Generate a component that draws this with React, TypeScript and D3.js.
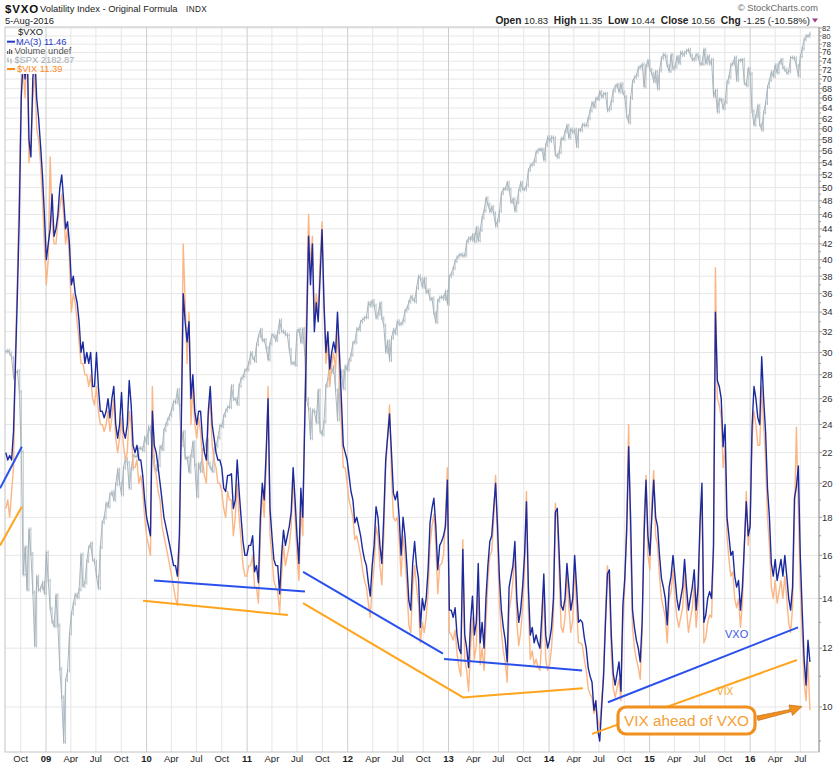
import React from "react";
import * as d3 from "d3";

// weekly samples (Fridays) starting 8-Aug-2008, ending 5-Aug-2016
const seriesStart = "2008-08-08";
const stepDays = 7;

// $VXO MA(3)
const vxoMA3 = [
  // 2008
  22, 21.5, 21.8, 21.5, 23.5, 29, 36, 46, 66, 75, 70, 80, 58, 55, 70, 76, 66, 62, 57, 52, 46,
  // 2009
  40, 42, 44, 49, 43, 44, 46, 50, 52, 48, 44, 45, 42, 37, 38, 36, 35, 33, 30, 31,
  29, 30, 29, 30, 27, 27, 30, 27, 25, 25, 24.5, 25, 26, 24.5, 26, 27, 24, 23, 24, 26.5,
  23.5, 23, 24, 27.5, 25.5, 22.5, 22, 22.5, 21.5, 21.5, 20.5, 19,
  // 2010
  18, 17.5, 17, 25, 22.5, 22, 21, 20, 19, 18, 17.5, 17, 16.5, 16, 15.5, 15.5, 15, 17, 24, 36,
  33, 31, 33, 26, 28, 25, 24, 25, 25, 23, 22, 21.5, 25, 27, 24, 23, 22, 21.5, 21.5, 21,
  19.7, 19.5, 20.5, 20.5, 20.6, 18.5, 19, 21.5, 19.5, 18, 16.7, 16,
  // 2011
  16, 16.5, 16.5, 17, 15.2, 15.5, 14.7, 18, 20, 19, 22, 26, 18.5, 17, 15.8, 15.5, 15.5, 14.2, 16, 17.3,
  16.5, 17, 17.5, 18.3, 21, 19, 17, 15.6, 19.7, 18, 24, 32, 43, 37, 42, 32, 35, 33, 38, 43.9,
  35, 30, 32, 28.5, 30, 31, 30, 34, 30, 26, 22.5, 22,
  // 2012
  21.5, 20.5, 19.5, 19, 17.7, 18, 17.5, 17, 16.3, 15.8, 15.5, 14.7, 14.1, 15.5, 16.5, 18.6, 18, 16.5, 15.6, 18,
  21.5, 23.1, 24.8, 22, 19.4, 19, 19.5, 18, 16, 18, 17, 15.5, 13.9, 13.5, 15.6, 16.7, 15.5, 14.9, 12.8, 14,
  13.5, 14, 15.3, 17.7, 18.5, 19.1, 17.5, 15.3, 16.5, 16.7, 17, 17.5,
  // 2013
  20.2, 13.5, 13.5, 13.2, 13.6, 12.5, 12, 11.8, 16.3, 12.5, 12, 11.3, 13, 14.1, 12.5, 13, 15.6, 12.2, 13, 12,
  14, 15.5, 16.7, 17, 18.5, 20, 17.5, 14.9, 13.5, 12.8, 12.3, 11.5, 14.5, 15, 15.5, 16.7, 14, 13, 13.5, 14.5,
  16, 18.9, 14.5, 12.5, 12.8, 12.2, 12.5, 12.2, 12, 13.3, 15.1, 12.5,
  // 2014
  12, 12.3, 12.8, 14, 18.3, 18.5, 16, 13.7, 13.5, 14, 15.6, 14.5, 13.5, 14, 16, 14.5, 13, 13.1, 13, 12.4,
  12, 11.3, 11, 10.8, 9.9, 10.2, 9.3, 9.0, 10, 11, 13, 15.1, 15.3, 12.5, 11.1, 10.7, 11.1, 11.5, 10.5, 13.7,
  14.9, 17.3, 22.4, 18, 13.5, 12.8, 12.3, 12, 11.5, 13, 17, 20.2,
  // 2015
  17, 16, 18, 20.2, 18, 17.5, 16, 14.9, 14.5, 14, 12.9, 14.5, 15, 16, 15, 14, 13.5, 14, 14.5, 15.8,
  14.5, 13.5, 14, 14.5, 15.3, 13.5, 14.5, 17.7, 20, 13, 13.3, 14, 14.3, 14, 16.5, 34, 27.5, 27, 26, 22.4,
  24, 18, 17, 16, 16.2, 15, 14.5, 14.8, 13.5, 14.5, 16.5, 18.9,
  // 2016
  17, 17.5, 23.8, 27, 26, 24.5, 24, 29.6, 26, 23.5, 19.7, 18, 15.6, 15, 15.8, 14.8, 15.3, 15.8, 15, 16,
  15, 14, 13.5, 14.5, 19.1, 19.8, 21.1, 16, 13.5, 11.6, 10.7, 12.3, 11.5,
];

// $VIX overlay
const vix = [
  // 2008
  18.5, 19, 18, 19.5, 21, 30, 38, 50, 68, 72, 66, 78, 54, 58, 66, 72, 60, 58, 54, 48, 42,
  // 2009
  37, 40, 55, 45, 42, 42, 45, 47, 49, 46, 42, 44, 40, 34, 36, 35, 33, 31, 29, 29,
  28, 28, 27, 28, 26, 25.5, 27, 25, 24, 24, 23.5, 24, 25, 23.5, 24.5, 26, 23, 22, 23, 24.5,
  22.5, 21.5, 22, 25, 24, 21, 21, 21.5, 20, 20.5, 19.5, 18,
  // 2010
  17, 16.5, 16, 27, 21, 20.5, 19.5, 19, 17.5, 17, 16.5, 16, 15.5, 15, 14.5, 14, 13.7, 16, 25, 42,
  35, 29, 34, 24, 27, 24, 23, 24.5, 23.5, 21.5, 20.5, 20, 24.5, 26, 22.5, 21.5, 21, 20, 20, 19.5,
  18.5, 18, 19.5, 19, 19, 17, 18, 20, 18, 16.8, 15.5, 15,
  // 2011
  15, 15.5, 15.5, 16, 14.5, 14.5, 13.8, 17, 19.5, 18, 21, 27, 17, 16, 14.8, 14.5, 14.3, 13.4, 15, 16.5,
  15.5, 16, 16.5, 17.5, 20.5, 18, 16, 14.8, 18.5, 17, 25, 35, 46, 39, 43, 33, 36, 34, 40, 45,
  34, 29, 31, 27, 29, 30, 28.5, 32, 28, 24, 21, 21,
  // 2012
  20, 19, 18.5, 18, 16.8, 17, 16.5, 16, 15.3, 14.8, 14.5, 13.8, 13.2, 14.5, 15.5, 17.5, 17, 15.5, 14.6, 17,
  21, 23, 25.5, 20.5, 18, 17.8, 18, 16.8, 15, 17, 16, 14.5, 12.9, 12.6, 14.5, 15.5, 14.5, 13.8, 12.2, 13,
  12.6, 13.2, 14.3, 16.5, 17.5, 18.2, 16.5, 14.2, 15.5, 15.6, 16, 18,
  // 2013
  21, 12.6, 12.5, 12.3, 12.7, 11.8, 11.3, 11, 16.8, 11.6, 11.2, 10.5, 12, 13.2, 11.6, 12.1, 14.8, 11.4, 12, 11.2,
  13, 14.8, 16, 16.2, 17.8, 20.5, 16.5, 13.8, 12.6, 11.9, 11.5, 10.8, 13.5, 14, 14.8, 16.2, 13, 12.1, 12.6, 13.6,
  15.2, 19.5, 13.5, 11.6, 11.9, 11.4, 11.6, 11.3, 11.2, 12.4, 14.6, 11.6,
  // 2014
  11.2, 11.4, 12, 13.2, 18.8, 17.8, 15, 12.8, 12.6, 13.2, 15.2, 13.6, 12.6, 13.1, 15.5, 13.6, 12.2, 12.2, 12.1, 11.6,
  11.2, 10.6, 10.4, 10.3, 9.8, 10, 9.6, 9.4, 10.2, 11.2, 13.5, 15.5, 14.5, 11.8, 10.6, 10.3, 10.6, 10.9, 10.2, 13,
  14.5, 18, 24, 16.5, 12.8, 12, 11.6, 11.3, 10.9, 12.5, 18, 20.5,
  // 2015
  16, 15.3, 19, 20.8, 17, 16.5, 15, 14, 13.6, 13.2, 12.2, 14, 14.3, 15.3, 14, 13.2, 12.8, 13.2, 13.6, 15.2,
  13.6, 12.6, 13.1, 13.6, 14.6, 12.8, 13.8, 17.2, 19.5, 12.2, 12.4, 13, 13.3, 13.2, 16, 39, 26, 25.5, 24.5, 21,
  22.5, 17, 15.8, 15, 15.2, 14, 13.6, 14, 12.8, 13.8, 16.5, 19.5,
  // 2016
  16.5, 18, 23, 25, 24, 22.5, 22.5, 27, 24, 21.5, 18, 16.5, 14.5, 14, 14.8, 13.8, 14.3, 14.8, 14, 15,
  14, 13, 12.6, 13.6, 18, 23.8, 18.5, 14.5, 12.5, 10.8, 10.2, 11.5, 9.9,
];

// $SPX overlay (own hidden scale)
const spx = [
  // 2008
  1296, 1298, 1292, 1283, 1242, 1252, 1255, 1213, 1099, 899, 940, 877, 968, 930, 873, 800, 896, 876, 879, 887, 872,
  // 2009
  932, 890, 850, 832, 826, 869, 827, 770, 735, 683, 756, 768, 816, 843, 857, 870, 866, 877, 929, 882,
  887, 919, 940, 946, 921, 918, 896, 879, 940, 979, 987, 1010, 1005, 1026, 1029, 1016, 1042, 1068, 1044, 1025,
  1071, 1087, 1080, 1036, 1069, 1093, 1091, 1091, 1106, 1106, 1102, 1126,
  // 2010
  1115, 1145, 1136, 1092, 1074, 1066, 1075, 1109, 1104, 1139, 1150, 1160, 1167, 1179, 1194, 1192, 1217, 1187, 1111, 1136,
  1088, 1089, 1064, 1092, 1117, 1076, 1022, 1078, 1065, 1103, 1102, 1121, 1079, 1071, 1065, 1105, 1110, 1125, 1148, 1146,
  1166, 1176, 1183, 1183, 1225, 1199, 1199, 1189, 1225, 1240, 1244, 1257,
  // 2011
  1258, 1272, 1293, 1283, 1276, 1311, 1329, 1343, 1320, 1321, 1304, 1279, 1313, 1332, 1329, 1320, 1337, 1364, 1340, 1338,
  1333, 1331, 1300, 1271, 1272, 1268, 1340, 1344, 1316, 1345, 1292, 1199, 1179, 1124, 1177, 1174, 1154, 1216, 1136, 1131,
  1155, 1225, 1238, 1285, 1253, 1264, 1216, 1159, 1244, 1255, 1220, 1265,
  // 2012
  1258, 1278, 1289, 1315, 1316, 1345, 1343, 1361, 1366, 1370, 1371, 1404, 1397, 1408, 1398, 1370, 1378, 1403, 1369, 1353,
  1295, 1318, 1278, 1325, 1343, 1335, 1362, 1355, 1357, 1363, 1386, 1391, 1406, 1418, 1412, 1407, 1438, 1466, 1460, 1441,
  1461, 1428, 1433, 1412, 1414, 1380, 1360, 1409, 1416, 1418, 1413, 1430,
  // 2013
  1402, 1466, 1472, 1486, 1503, 1513, 1518, 1520, 1516, 1518, 1552, 1561, 1557, 1569, 1553, 1588, 1555, 1582, 1614, 1633,
  1667, 1650, 1631, 1643, 1626, 1593, 1606, 1632, 1680, 1692, 1692, 1710, 1691, 1656, 1664, 1633, 1655, 1688, 1710, 1692,
  1691, 1703, 1745, 1759, 1762, 1771, 1798, 1804, 1806, 1805, 1775, 1818,
  // 2014
  1842, 1831, 1842, 1839, 1790, 1783, 1797, 1838, 1836, 1859, 1878, 1841, 1866, 1857, 1865, 1815, 1864, 1863, 1881, 1878,
  1878, 1900, 1924, 1949, 1936, 1963, 1961, 1985, 1968, 1978, 1978, 1925, 1931, 1955, 1988, 2003, 2008, 1985, 2010, 1982,
  1968, 1906, 1887, 1965, 2018, 2032, 2039, 2064, 2068, 2076, 2002, 2071,
  // 2015
  2089, 2058, 2045, 2019, 2051, 1995, 2055, 2097, 2110, 2104, 2071, 2053, 2108, 2061, 2067, 2102, 2081, 2117, 2108, 2116,
  2123, 2126, 2107, 2092, 2094, 2110, 2102, 2077, 2077, 2127, 2080, 2104, 2078, 2092, 1971, 1989, 1921, 1961, 1958, 1931,
  1951, 2015, 2033, 2075, 2079, 2099, 2023, 2089, 2090, 2092, 2012, 2006,
  // 2016
  2061, 2044, 1922, 1880, 1907, 1940, 1880, 1865, 1918, 1948, 2000, 2022, 2050, 2036, 2073, 2048, 2081, 2092, 2065, 2058,
  2047, 2053, 2099, 2099, 2096, 2071, 2037, 2103, 2130, 2162, 2175, 2174, 2183,
];

const yTickValues = d3.range(10, 83, 2);
const yMinorValues = d3.range(9, 83, 1);

// hand-drawn trend lines: [date, value]
const vxoTrendLines: [string, number][][] = [
  [["2008-07-18", 19.7], ["2008-10-05", 22.4]],
  [["2010-01-28", 14.8], ["2011-07-30", 14.3]],
  [["2011-07-23", 15.2], ["2012-12-12", 11.8]],
  [["2012-12-16", 11.6], ["2014-05-01", 11.2]],
  [["2014-08-03", 10.15], ["2016-06-23", 12.8]],
];
const vixTrendLines: [string, number][][] = [
  [["2008-07-18", 16.5], ["2008-10-05", 18.6]],
  [["2009-12-19", 13.9], ["2011-05-29", 13.3]],
  [["2011-07-23", 13.8], ["2013-02-23", 10.3], ["2014-05-04", 10.6]],
  [["2014-06-06", 9.2], ["2016-06-19", 11.57]],
];

const headerStats: [string, string][] = [
  ["Open", "10.83"],
  ["High", "11.35"],
  ["Low", "10.44"],
  ["Close", "10.56"],
  ["Chg", "-1.25 (-10.58%)"],
];

const FONT = "'Liberation Sans', Arial, Helvetica, sans-serif";
const W = 840;
const H = 763;
const PL = 5, PR = 819, PT = 27, PB = 752;

export default function App() {
  const parse = d3.timeParse("%Y-%m-%d");
  const start = parse(seriesStart) as Date;
  const dateAt = (i: number) => d3.timeDay.offset(start, i * stepDays);

  const x = d3.scaleTime()
    .domain([parse("2008-08-05") as Date, parse("2016-09-07") as Date])
    .range([PL, PR]);
  const y = d3.scaleLog().domain([10, 82]).range([707, 28]);
  const ySpx = d3.scaleLog().domain([683, 2182]).range([742, 34]);

  const lineFor = (sc: (v: number) => number) =>
    d3.line<number>().x((_, i) => x(dateAt(i))).y((d) => sc(d));

  const spxPath = lineFor(ySpx)(spx) || "";
  const vixPath = lineFor(y)(vix) || "";
  const vxoPath = lineFor(y)(vxoMA3) || "";

  // OHLC-like texture: vertical range between consecutive weekly closes
  const spxBars = spx.map((v, i) => {
    const prev = i > 0 ? spx[i - 1] : v;
    const xi = x(dateAt(i));
    const y1 = Math.min(ySpx(prev), ySpx(v)) - 2;
    const y2 = Math.max(ySpx(prev), ySpx(v)) + 2;
    return `M${xi.toFixed(1)},${y1.toFixed(1)}V${y2.toFixed(1)}M${(xi - 1).toFixed(1)},${ySpx(prev).toFixed(1)}h1M${xi.toFixed(1)},${ySpx(v).toFixed(1)}h1`;
  }).join("");

  const trendLine = d3.line<[string, number]>()
    .x((d) => x(parse(d[0]) as Date))
    .y((d) => y(d[1]));

  const quarters = x.ticks(d3.timeMonth.every(3) as any);
  const fmtYear = d3.timeFormat("%y");
  const fmtMon = d3.timeFormat("%b");

  const labelSize = (v: number) => {
    const gap = y(v) - y(v + 2);
    return Math.min(9.5, Math.max(7, gap * 0.98));
  };

  return (
    <svg
      width={W}
      height={H}
      style={{ position: "absolute", left: 0, top: 0, background: "#fff" }}
      fontFamily={FONT}
    >
      <defs>
        <clipPath id="plotClip">
          <path
            clipRule="evenodd"
            d={`M${PL},${PT}H${PR}V${PB}H${PL}Z M${PL},${PT}H73V74H${PL}Z`}
          />
        </clipPath>
      </defs>
      <rect x={0} y={0} width={W} height={H} fill="#fff" />

      {/* header */}
      <text x={5} y={12.5} fontSize={11.5} fontWeight="bold" letterSpacing={0.8} fill="#111">$VXO</text>
      <text x={40} y={12} fontSize={9.4} fill="#222">Volatility Index - Original Formula</text>
      <text x={186} y={12} fontSize={8.2} letterSpacing={0.4} fill="#222">INDX</text>
      <text x={5} y={24} fontSize={9.4} fill="#222">5-Aug-2016</text>
      <text x={818} y={10.5} fontSize={9.3} textAnchor="end" fill="#666">© StockCharts.com</text>
      <text x={810} y={24} fontSize={9.6} textAnchor="end" fill="#222">
        {headerStats.map(([k, v], i) => (
          <React.Fragment key={k}>
            <tspan fontWeight="bold" fontSize={10.2}>{(i > 0 ? "\u00a0\u00a0" : "") + k}</tspan>
            <tspan>{"\u00a0" + v}</tspan>
          </React.Fragment>
        ))}
      </text>
      <path d="M812,18.5 L818,18.5 L815,22.5 Z" fill="#a03a8a" />

      {/* grid */}
      {yTickValues.map((v) => (
        <line key={"h" + v} x1={PL} x2={PR} y1={y(v)} y2={y(v)} stroke="#e7e7e7" strokeWidth={1} />
      ))}
      {quarters.map((d) => (
        <line
          key={"v" + d.getTime()}
          x1={x(d)}
          x2={x(d)}
          y1={PT}
          y2={PB}
          stroke={d.getMonth() === 0 ? "#cdcdcd" : "#e6e6e6"}
          strokeWidth={1}
        />
      ))}

      {/* frame */}
      <rect x={PL} y={PT} width={PR - PL} height={PB - PT} fill="none" stroke="#c4c4c4" strokeWidth={1} />

      {/* series */}
      <g clipPath="url(#plotClip)">
        <path d={spxBars} fill="none" stroke="#b9c3c9" strokeWidth={1} />
        <path d={spxPath} fill="none" stroke="#a2afb7" strokeWidth={0.9} strokeLinejoin="round" />
        <path d={vixPath} fill="none" stroke="#fbb27e" strokeWidth={1.4} strokeLinejoin="round" opacity={0.95} />
        <path d={vxoPath} fill="none" stroke="#1b2a9e" strokeWidth={1.4} strokeLinejoin="round" />
      </g>

      {/* trend lines */}
      {vixTrendLines.map((seg, i) => (
        <path key={"tv" + i} d={trendLine(seg) || ""} fill="none" stroke="#ffa41c" strokeWidth={2} />
      ))}
      {vxoTrendLines.map((seg, i) => (
        <path key={"tb" + i} d={trendLine(seg) || ""} fill="none" stroke="#2a50ec" strokeWidth={2} />
      ))}
      <text x={725} y={638} fontSize={11} fill="#3a58e6">VXO</text>
      <text x={717} y={695} fontSize={10} fill="#f5a623">VIX</text>

      {/* callout */}
      <rect x={618} y={707} width={137} height={27} rx={8} fill="#fff" stroke="#f0901e" strokeWidth={3.2} />
      <text x={686.5} y={726} fontSize={15.3} textAnchor="middle" fill="#f6a036">VIX ahead of VXO</text>
      <path
        d="M757,716 L790,709.5 L789,705 L802,706.5 L792.5,715.5 L791.5,711.5 L758,720.5 Z"
        fill="#f0901e"
        stroke="#c46c12"
        strokeWidth={0.7}
        strokeLinejoin="round"
      />

      {/* right axis */}
      <line x1={PR} x2={PR} y1={PT} y2={PB} stroke="#9a9a9a" strokeWidth={1} />
      {yMinorValues.map((v) => (
        <line key={"m" + v} x1={PR} x2={PR + (v % 2 === 0 ? 3 : 2)} y1={y(v)} y2={y(v)} stroke="#9a9a9a" strokeWidth={1} />
      ))}
      {yTickValues.map((v) => (
        <text key={"yl" + v} x={822} y={y(v)} dy="0.35em" fontSize={labelSize(v)} fill="#333">{v}</text>
      ))}

      {/* bottom axis */}
      {quarters.map((d) => (
        <text
          key={"xl" + d.getTime()}
          x={x(d)}
          y={762}
          fontSize={9.5}
          textAnchor="middle"
          fontWeight={d.getMonth() === 0 ? "bold" : "normal"}
          fill="#222"
        >
          {d.getMonth() === 0 ? fmtYear(d) : fmtMon(d)}
        </text>
      ))}

      {/* legend */}
      <text x={18} y={35} fontSize={9.4} fill="#222">$VXO</text>
      <line x1={7} x2={15} y1={41.7} y2={41.7} stroke="#2438c8" strokeWidth={2} />
      <text x={16} y={45} fontSize={9.3} fill="#2438c8">MA(3) 11.46</text>
      <rect x={7} y={51} width={1.3} height={3} fill="#666" />
      <rect x={9} y={49} width={1.3} height={5} fill="#666" />
      <rect x={11} y={50} width={1.3} height={4} fill="#666" />
      <text x={14.5} y={54} fontSize={9.3} fill="#555">Volume undef</text>
      <path d="M8,57.5V62.5 M7,59H8 M8,61H9 M11,58.5V63.5 M10,60H11 M11,62H12" stroke="#a8b2b8" strokeWidth={1} fill="none" />
      <text x={14.5} y={63.3} fontSize={9.3} fill="#a3acb3">$SPX 2182.87</text>
      <line x1={7} x2={15} y1={69} y2={69} stroke="#ff8a1c" strokeWidth={2} />
      <text x={17} y={72.3} fontSize={9.3} fill="#ff8a1c">$VIX 11.39</text>
    </svg>
  );
}
